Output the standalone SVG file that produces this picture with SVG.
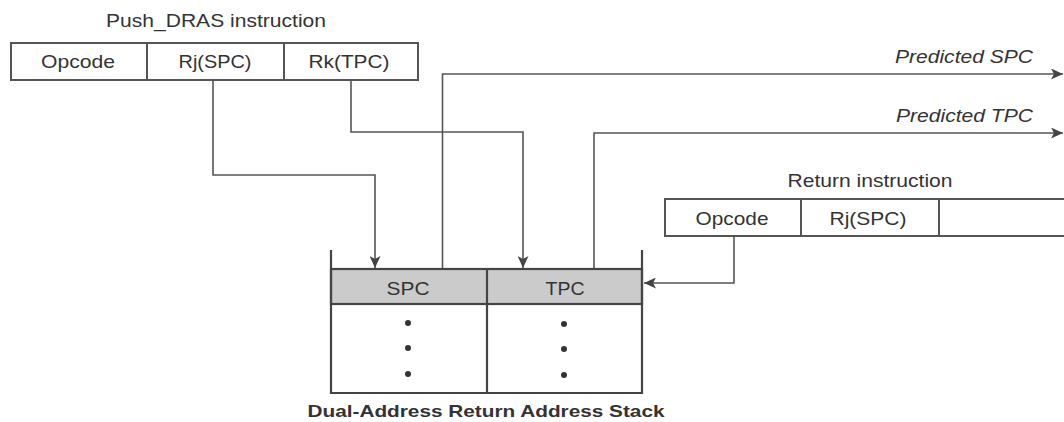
<svg xmlns="http://www.w3.org/2000/svg" width="1064" height="422" viewBox="0 0 1064 422">
<style>
  .t { font-family: "Liberation Sans", Arial, sans-serif; font-size: 19px; fill: #333; }
  .it { font-style: italic; }
  .b { font-weight: bold; font-size: 17px; }
  .box { fill: #fff; stroke: #555; stroke-width: 2; }
  .ln { fill: none; stroke: #555; stroke-width: 1.6; }
  .wall { fill: none; stroke: #444; stroke-width: 2.2; }
  .gray { fill: #cbcbcb; stroke: #444; stroke-width: 2.2; }
  .dot { fill: #333; }
</style>
<defs>
  <marker id="ah" markerUnits="userSpaceOnUse" markerWidth="13" markerHeight="11" refX="12" refY="5.5" orient="auto">
    <path d="M0,0 L12,5.5 L0,11 L3,5.5 Z" fill="#444"/>
  </marker>
</defs>
<rect width="1064" height="422" fill="#fff"/>

<g id="push-instruction">
  <text class="t" x="216" y="27" text-anchor="middle" textLength="220" lengthAdjust="spacingAndGlyphs">Push_DRAS instruction</text>
  <rect class="box" x="11" y="43" width="407" height="37"/>
  <line class="box" x1="147" y1="43" x2="147" y2="80"/>
  <line class="box" x1="284" y1="43" x2="284" y2="80"/>
  <text class="t" x="78" y="68" text-anchor="middle" textLength="74" lengthAdjust="spacingAndGlyphs">Opcode</text>
  <text class="t" x="215" y="68" text-anchor="middle" textLength="73" lengthAdjust="spacingAndGlyphs">Rj(SPC)</text>
  <text class="t" x="349" y="68" text-anchor="middle" textLength="81" lengthAdjust="spacingAndGlyphs">Rk(TPC)</text>
</g>

<g id="return-instruction">
  <text class="t" x="870" y="187" text-anchor="middle" textLength="165" lengthAdjust="spacingAndGlyphs">Return instruction</text>
  <path class="box" d="M1066,199 H665 V236 H1066"/>
  <line class="box" x1="801" y1="199" x2="801" y2="236"/>
  <line class="box" x1="939" y1="199" x2="939" y2="236"/>
  <text class="t" x="732" y="225" text-anchor="middle" textLength="73" lengthAdjust="spacingAndGlyphs">Opcode</text>
  <text class="t" x="868" y="225" text-anchor="middle" textLength="77" lengthAdjust="spacingAndGlyphs">Rj(SPC)</text>
</g>

<g id="dras-stack">
  <rect class="gray" x="331" y="269" width="311" height="35"/>
  <path class="wall" d="M331,250 V393 H642 V250"/>
  <line class="wall" x1="487" y1="269" x2="487" y2="393"/>
  <text class="t" x="408" y="295" text-anchor="middle" textLength="43" lengthAdjust="spacingAndGlyphs">SPC</text>
  <text class="t" x="565" y="295" text-anchor="middle" textLength="39" lengthAdjust="spacingAndGlyphs">TPC</text>
  <circle class="dot" cx="408" cy="323" r="3"/>
  <circle class="dot" cx="408" cy="348" r="3"/>
  <circle class="dot" cx="408" cy="374" r="3"/>
  <circle class="dot" cx="564" cy="324" r="3"/>
  <circle class="dot" cx="564" cy="349" r="3"/>
  <circle class="dot" cx="564" cy="375" r="3"/>
  <text class="t b" x="486" y="417" text-anchor="middle" textLength="357" lengthAdjust="spacingAndGlyphs">Dual-Address Return Address Stack</text>
</g>

<g id="labels">
  <text class="t it" x="1033" y="63" text-anchor="end" textLength="138" lengthAdjust="spacingAndGlyphs">Predicted SPC</text>
  <text class="t it" x="1033" y="122" text-anchor="end" textLength="137" lengthAdjust="spacingAndGlyphs">Predicted TPC</text>
</g>

<g id="connectors">
  <path class="ln" d="M213,81 V175 H375 V268" marker-end="url(#ah)"/>
  <path class="ln" d="M351,81 V132 H523 V268" marker-end="url(#ah)"/>
  <path class="ln" d="M442.5,268 V74 H1063" marker-end="url(#ah)"/>
  <path class="ln" d="M594,268 V133 H1063" marker-end="url(#ah)"/>
  <path class="ln" d="M734,236 V283 H644" marker-end="url(#ah)"/>
</g>
</svg>
